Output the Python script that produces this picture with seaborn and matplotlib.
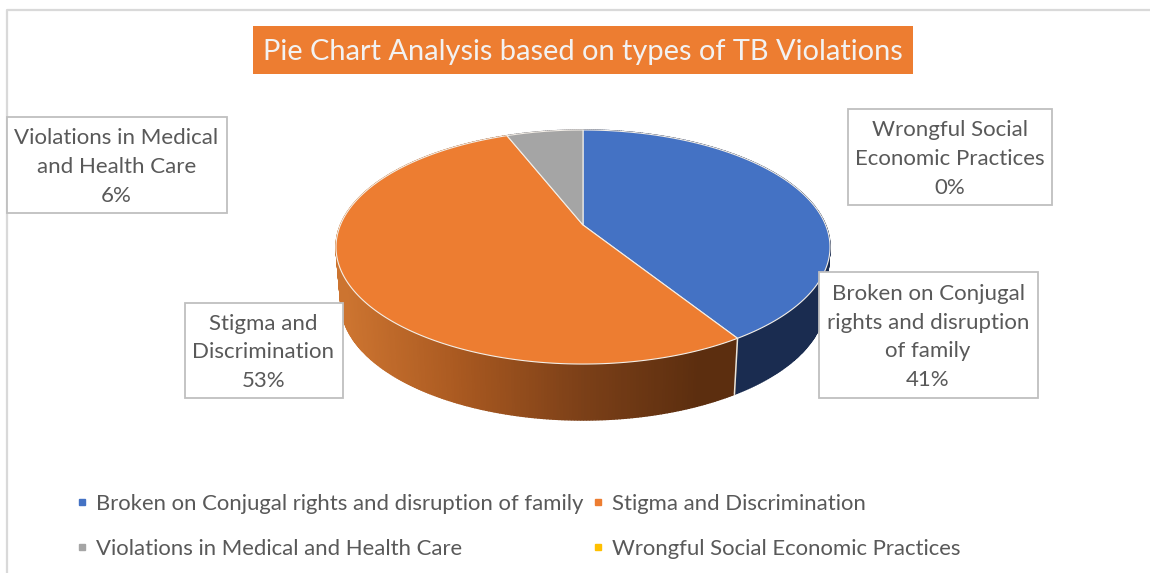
import numpy as np
import matplotlib
matplotlib.use('Agg')
import matplotlib.pyplot as plt
import seaborn as sns
from matplotlib.colors import LinearSegmentedColormap
from matplotlib.lines import Line2D
from matplotlib.patches import Rectangle

categories = ['Broken on Conjugal rights and disruption of family',
              'Stigma and Discrimination',
              'Violations in Medical and Health Care',
              'Wrongful Social Economic Practices']
percent = [41, 53, 6, 0]
box_names = ['Broken on Conjugal\nrights and disruption\nof family',
             'Stigma and\nDiscrimination',
             'Violations in Medical\nand Health Care',
             'Wrongful Social\nEconomic Practices']
title = 'Pie Chart Analysis based on types of TB Violations'

sns.set_theme(style='white')
plt.rcParams['font.family'] = ['Lato', 'DejaVu Sans']
colors = sns.color_palette(['#4472C4', '#ED7D31', '#A5A5A5', '#FFC000'])
text_grey = '#595959'

# label boxes in pixels: left, top, right, bottom
boxes = [(819, 272, 1038, 398), (185, 303, 343, 398),
         (7, 117, 227, 213), (848, 109, 1052, 205)]

# the pie is tilted so the apex is not the middle of the ellipse
cx, cy = 583, 225
a, b, k = 112.9, 242.6, 0.188
depth = 56
shrink = 0.98


def project(frac):
    t = 2 * np.pi * np.asarray(frac)
    den = 1 + k * np.cos(t)
    return cx + b * np.sin(t) / den, cy - a * np.cos(t) / den


fig = plt.figure(figsize=(11.5, 5.73), dpi=100)
ax = fig.add_axes([0, 0, 1, 1])
ax.set_xlim(0, 1150)
ax.set_ylim(573, 0)
ax.axis('off')

# chart border, only top and left are in the crop
ax.plot([7, 7, 1150], [573, 10, 10], color='#D9D9D9', lw=1.6, zorder=1)

edges = np.cumsum([0] + percent) / sum(percent)
orange_wall = LinearSegmentedColormap.from_list(
    'wall', ['#CC7430', '#A85820', '#7C4018', '#5C2E0F'])
wall_solid = ['#1A2C50', None, '#63636A', '#997300']

# walls first, top faces go over them
for i in range(len(percent)):
    if percent[i] == 0:
        continue
    f = np.linspace(edges[i], edges[i + 1], int(percent[i] * 6) + 2)
    x, y = project(f)
    xb = cx + (x - cx) * shrink
    yb = y + depth
    for j in range(len(f) - 1):
        if wall_solid[i] is None:
            c = orange_wall(np.clip((x[j] - 345) / (700 - 345), 0, 1))
        else:
            c = wall_solid[i]
        ax.fill([x[j], x[j + 1], xb[j + 1], xb[j]],
                [y[j], y[j + 1], yb[j + 1], yb[j]],
                color=c, lw=1.0, zorder=2)

# light seam between the blue and orange walls
x0, y0 = project(edges[1])
ax.plot([x0, cx + (x0 - cx) * shrink], [y0, y0 + depth],
        color='#E8E4DC', lw=1.1, zorder=3)

for i in range(len(percent)):
    if percent[i] == 0:
        continue
    f = np.linspace(edges[i], edges[i + 1], int(percent[i] * 6) + 2)
    x, y = project(f)
    ax.fill(np.r_[cx, x], np.r_[cy, y], facecolor=colors[i],
            edgecolor='#F4EFE8', lw=0.8, zorder=4)

# data label boxes
for i in range(len(categories)):
    l, t, r, bt = boxes[i]
    ax.add_patch(Rectangle((l, t), r - l, bt - t, facecolor='white',
                           edgecolor='#BFBFBF', lw=1.3, zorder=5))
    ax.text((l + r) / 2 - 0.5, (t + bt) / 2 + 2, box_names[i] + '\n%d%%' % percent[i],
            ha='center', va='center', ma='center', color=text_grey,
            fontsize=16, linespacing=1.56, zorder=6)

# title
ax.add_patch(Rectangle((253, 26), 660, 48, facecolor='#ED7D31', lw=0, zorder=5))
ax.text(583, 52, title, ha='center', va='center', color='#F2F2F2',
        fontsize=20.9, zorder=6)

# legend, filled column by column
order = [0, 2, 1, 3]
handles = [Line2D([], [], ls='none', marker='s', ms=5, color=colors[i],
                  label=categories[i]) for i in order]
leg = ax.legend(handles=handles, ncol=2, loc='upper left', frameon=False,
                bbox_to_anchor=(73, 494), bbox_transform=ax.transData,
                fontsize=15.95, labelcolor=text_grey, handlelength=0.8,
                handletextpad=0.225, columnspacing=0.28, labelspacing=1.12,
                borderpad=0, borderaxespad=0)

fig.savefig('out.png', dpi=100)
